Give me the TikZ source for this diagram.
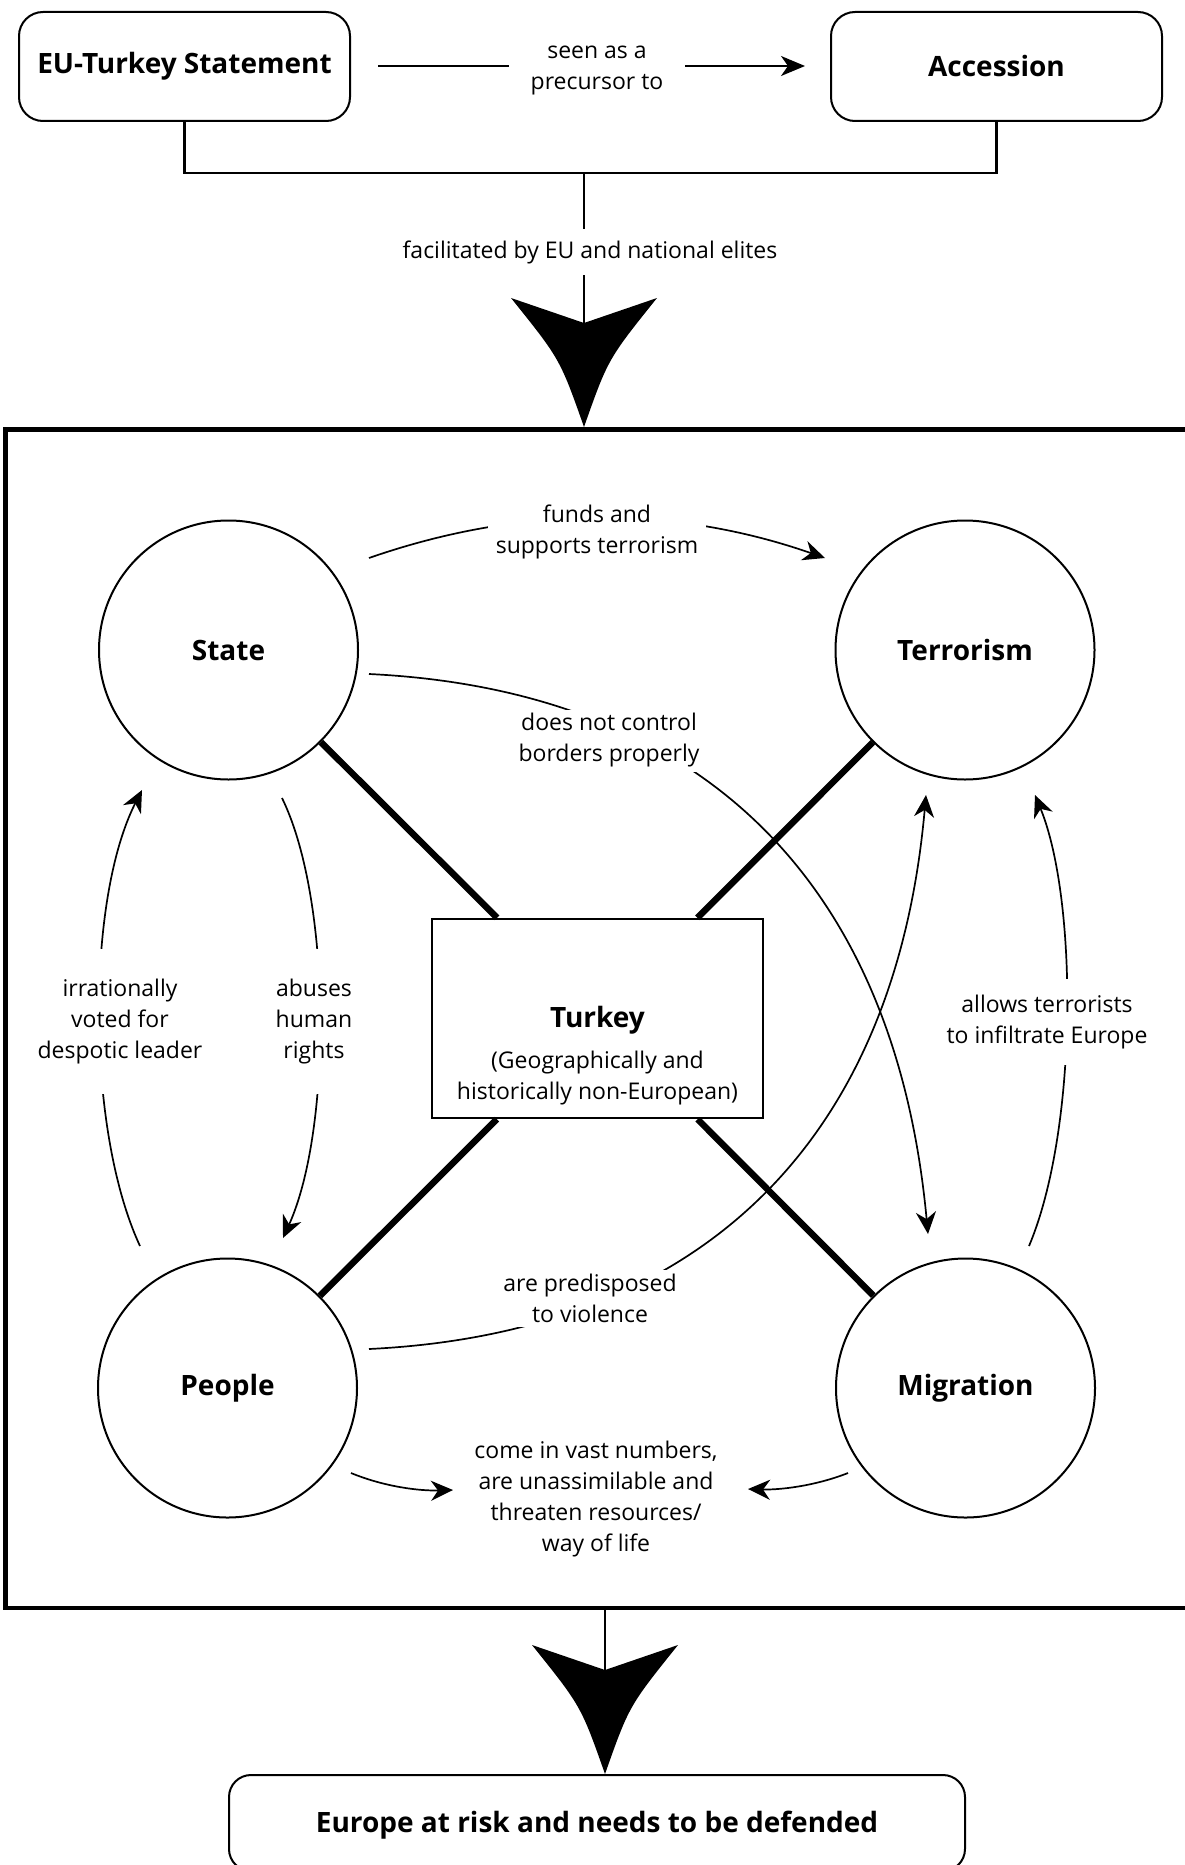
\documentclass[tikz,border=0pt]{standalone}
\usepackage{fontspec}
\setmainfont{Open Sans}
\usetikzlibrary{arrows.meta}
\newcommand\myheadfont{\fontsize{28}{34}\selectfont\bfseries}
\newcommand\mylblfont{\fontsize{23}{31}\selectfont}
\begin{document}
\begin{tikzpicture}[x=1pt,y=-1pt,
  topbox/.style={draw,line width=2pt,rounded corners=24pt,minimum width=331pt,minimum height=109pt,font=\myheadfont,inner sep=0pt},
  circ/.style={draw,circle,line width=2pt,minimum size=259pt,inner sep=0pt,font=\myheadfont},
  lbl/.style={font=\mylblfont,align=center,fill=white,inner xsep=4pt,inner ysep=4pt},
  conn/.style={line width=1.7pt},
  arr/.style={conn,-{Stealth[length=22pt,width=20pt,inset=7pt]}},
  thicklink/.style={line width=6.5pt},
  bigtip/.style={fill=black}
]
\useasboundingbox (0,0) rectangle (1184,1865);
\fill[white] (0,0) rectangle (1184,1865);

% ---------- top part ----------
\node[topbox] (eu) at (184.5,66.5) {EU-Turkey Statement};
\node[topbox] (acc) at (996.5,66.5) {Accession};
\coordinate (seenS) at (378,66);
\coordinate (seenE) at (805,66);
\draw[line width=2pt,-{Stealth[length=24pt,width=20pt,inset=7pt]}] (seenS) -- (seenE);
\node[lbl,inner xsep=22pt] (seen) at (597,70) {seen as a\\precursor to};

\coordinate (brL) at (184.5,173);
\coordinate (brR) at (996.5,173);
\coordinate (brM) at (584,173);
\coordinate (notchT) at (584,323);
\draw[line width=2.2pt] (eu.south) -- (brL) -- (brR) -- (acc.south);
\draw[line width=1.5pt] (brM) -- (notchT);
\node[lbl,inner ysep=11pt] (facil) at (590,252) {facilitated by EU and national elites};
\fill[bigtip] (511,298) -- (notchT) -- (657,298) .. controls (608,359) .. (584,427) .. controls (560,359) .. (511,298) -- cycle;

% ---------- frame ----------
\draw[line width=4.5pt] (5.7,429.5) rectangle (1188,1608);

% ---------- nodes ----------
\node[circ] (state) at (228.5,650) {State};
\node[circ] (terror) at (965,650) {Terrorism};
\node[circ] (people) at (227.5,1388) {People};
\node[circ] (migr) at (965.5,1388) {Migration};
\node[draw,line width=2.5pt,minimum width=331pt,minimum height=199pt,inner sep=0pt] (turkey) at (597.5,1018.5) {};
\node[font=\myheadfont,inner sep=0pt] (turkeyname) at (597.5,1020.5) {Turkey};
\node[font=\mylblfont,align=center,inner sep=0pt] (turkeysub) at (597.5,1078.5) {(Geographically and\\historically non-European)};

\draw[thicklink] (state) -- (turkey);
\draw[thicklink] (terror) -- (turkey);
\draw[thicklink] (people) -- (turkey);
\draw[thicklink] (migr) -- (turkey);

% ---------- curved connectors ----------
\coordinate (a1s) at (369,558);   \coordinate (a1e) at (825,558);
\coordinate (a2s) at (369,674);   \coordinate (a2e) at (928,1234);
\coordinate (a3s) at (369,1349);  \coordinate (a3e) at (926,795);
\coordinate (a4s) at (140,1246);  \coordinate (a4e) at (142,790);
\coordinate (a5s) at (282,798);   \coordinate (a5e) at (283,1238);
\coordinate (a6s) at (1029,1246); \coordinate (a6e) at (1035,795);
\coordinate (a7s) at (351,1473);  \coordinate (a7e) at (453,1490);
\coordinate (a8s) at (848,1473);  \coordinate (a8e) at (748,1489);

\draw[arr] (a1s) .. controls (521,505) and (673,505) .. (a1e);
\draw[arr] (a2s) .. controls (700,690) and (895,880) .. (a2e);
\draw[arr] (a3s) .. controls (700,1333) and (895,1143) .. (a3e);
\draw[arr] (a4s) .. controls (86,1130) and (86,900) .. (a4e);
\draw[arr] (a5s) .. controls (332,900) and (332,1130) .. (a5e);
\draw[arr] (a6s) .. controls (1078,1130) and (1078,900) .. (a6e);
\draw[arr] (a7s) .. controls (385,1487) and (420,1491) .. (a7e);
\draw[arr] (a8s) .. controls (815,1486) and (780,1490) .. (a8e);

\node[lbl,inner xsep=8pt] (l1) at (597,532) {funds and\\supports terrorism};
\node[lbl] (l2) at (609,740.5) {does not control\\borders properly};
\node[lbl] (l3) at (590,1298.5) {are predisposed\\to violence};
\node[lbl,inner ysep=30pt] (l4) at (120,1021.5) {irrationally\\voted for\\despotic leader};
\node[lbl,inner ysep=30pt] (l5) at (314,1021.5) {abuses\\human\\rights};
\node[lbl,inner ysep=16pt] (l6) at (1047,1022) {allows terrorists\\to infiltrate Europe};
\node[lbl] (l7) at (596,1499.5) {come in vast numbers,\\are unassimilable and\\threaten resources/\\way of life};

% ---------- bottom ----------
\coordinate (fb) at (605,1608);
\coordinate (notchB) at (605,1670);
\draw[line width=1.5pt] (fb) -- (notchB);
\fill[bigtip,shift={(21,1347)}] (511,298) -- (584,323) -- (657,298) .. controls (608,359) .. (584,427) .. controls (560,359) .. (511,298) -- cycle;
\node[topbox,minimum width=736pt,minimum height=96pt,rounded corners=22pt] (europe) at (597,1823) {};
\node[font=\myheadfont,inner sep=0pt] (europetxt) at (597,1825.5) {Europe at risk and needs to be defended};
\end{tikzpicture}
\end{document}
